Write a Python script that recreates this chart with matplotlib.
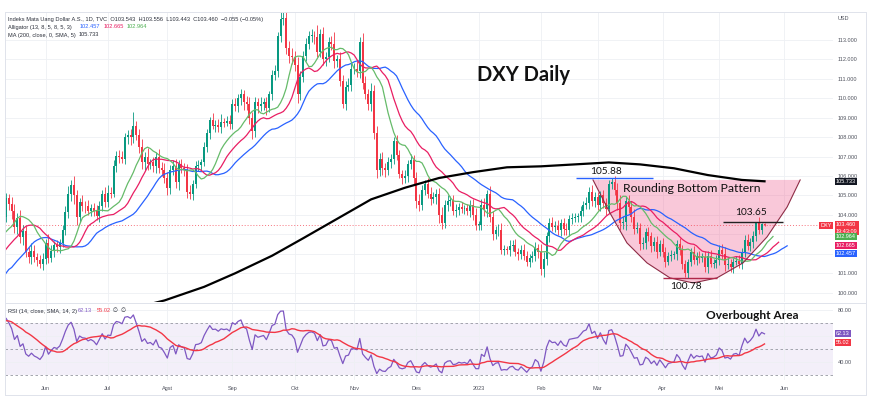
import matplotlib
matplotlib.use('Agg')
import matplotlib.pyplot as plt
import numpy as np
import pandas as pd
from matplotlib.lines import Line2D
from matplotlib.patches import Polygon
from matplotlib.transforms import blended_transform_factory

plt.rcParams['font.family'] = ['Liberation Sans', 'DejaVu Sans']

W, H = 870, 411

# closes 1 Mar - 11 May 2022, only used to warm up the indicators
hist_close = [97.40, 97.40, 97.80, 98.60, 99.30, 99.00, 98.00, 98.50, 99.10, 99.00,
              98.80, 98.40, 97.90, 98.20, 98.50, 98.50, 98.60, 98.80, 98.80, 99.00,
              98.40, 97.80, 98.30,
              98.60, 99.00, 99.50, 99.60, 99.80, 99.80, 99.90, 100.30, 99.90, 100.50,
              100.50, 100.70, 100.90, 100.40, 100.60, 101.10, 101.80, 102.30, 103.00,
              103.70, 103.00,
              103.70, 103.50, 102.50, 103.60, 103.70, 103.70, 103.90, 103.90]

# daily closes shown on the chart, 12 May 2022 - 23 May 2023
may22 = [104.85, 104.56, 104.18, 103.37, 103.82, 102.87, 103.15, 102.11, 101.84, 102.13,
         101.82, 101.67, 101.45, 101.75]
jun22 = [102.55, 101.80, 102.15, 102.43, 102.34, 102.56, 103.22, 104.15, 105.07, 105.52,
         105.00, 103.90, 104.65, 104.48, 104.45, 104.21, 104.36, 104.22, 103.94, 104.47,
         105.10, 104.69]
jul22 = [105.13, 105.10, 106.50, 107.05, 107.00, 106.90, 108.00, 108.10, 108.00, 108.60,
         108.10, 107.50, 106.70, 107.00, 106.60, 106.70, 106.50, 107.00, 106.40, 106.30,
         105.90]
aug22 = [105.40, 106.30, 106.50, 105.70, 106.60, 106.40, 106.30, 105.20, 105.10, 105.60,
         106.50, 106.55, 106.70, 107.50, 108.20, 108.90, 108.60, 108.65, 108.50, 108.80,
         108.75, 108.82, 108.70]
sep22 = [109.70, 109.60, 110.00, 110.20, 109.80, 109.70, 109.00, 108.30, 109.80, 109.60,
         109.70, 109.80, 109.50, 110.20, 111.20, 111.40, 113.20, 114.10, 114.15, 112.60,
         112.20, 112.10]
oct22 = [111.70, 110.20, 111.10, 112.20, 112.80, 113.20, 113.28, 113.15, 112.40, 113.30,
         112.00, 112.10, 112.90, 112.80, 111.90, 112.00, 110.90, 109.70, 110.60, 110.70,
         111.50]
nov22 = [111.50, 111.40, 112.90, 110.80, 110.20, 109.70, 110.40, 108.20, 106.30, 106.90,
         106.40, 106.30, 106.70, 106.90, 107.80, 107.10, 106.10, 105.90, 106.00, 106.60,
         106.80, 105.90]
dec22 = [104.70, 104.50, 105.30, 105.60, 105.10, 104.80, 104.90, 105.10, 104.00, 103.60,
         104.50, 104.70, 104.75, 104.20, 104.25, 104.40, 104.30, 104.35, 104.20, 104.50,
         104.00, 103.50]
jan23 = [103.50, 104.50, 104.30, 105.10, 103.90, 103.00, 103.20, 103.25, 102.20, 102.25,
         102.20, 102.40, 102.45, 102.10, 102.00, 102.20, 101.90, 101.60, 101.80, 101.90,
         102.30, 102.10]
feb23 = [101.20, 101.75, 102.90, 103.60, 103.40, 103.45, 103.20, 103.60, 103.30, 103.20,
         103.80, 103.85, 103.90, 103.95, 104.20, 104.50, 104.60, 105.20, 104.70, 104.90]
mar23 = [104.50, 105.00, 104.60, 104.30, 105.60, 105.70, 105.30, 104.60, 103.60, 103.65,
         104.70, 104.40, 103.90, 103.30, 103.35, 102.50, 102.55, 103.10, 102.90, 102.40,
         102.60, 102.10, 102.50]
apr23 = [102.10, 101.60, 101.90, 101.95, 102.00, 102.50, 102.20, 101.50, 101.00, 101.60,
         102.10, 101.70, 101.90, 101.80, 101.85, 101.30, 101.90, 101.50, 101.55, 101.70]
may23 = [102.20, 102.00, 101.40, 101.45, 101.30, 101.60, 101.65, 101.50, 102.10, 102.70,
         102.40, 102.60, 102.90, 103.60, 103.20, 103.54, 103.46]

# shadow lengths beyond the body, in hundredths
wick_up = [30, 25, 35, 40, 30, 45, 35, 30, 25, 40, 30, 20, 25, 30,
           20, 45, 30, 25, 30, 20, 25, 30, 40, 27, 50, 30, 20, 35, 25, 30, 20, 25, 30, 25, 20, 35,
           40, 30, 35, 25, 30, 30, 20, 25, 30, 69, 25, 30, 40, 25, 45, 20, 30, 25, 40, 30, 35,
           30, 25, 30, 40, 20, 30, 25, 30, 35, 20, 25, 30, 20, 25, 20, 15, 35, 25, 30, 40, 20, 25, 30,
           25, 30, 20, 30, 25, 30, 35, 30, 25, 20, 35, 20, 25, 20, 25, 30, 20, 50, 30, 68, 35, 40,
           35, 40, 30, 25, 30, 25, 30, 20, 60, 25, 35, 30, 25, 30, 60, 25, 40, 30, 30, 35, 30,
           30, 40, 25, 45, 35, 30, 40, 30, 40, 30, 35, 25, 30, 25, 20, 30, 25, 20, 30, 25, 35, 30,
           30, 40, 25, 20, 30, 35, 30, 25, 30, 40, 25, 30, 20, 25, 30, 20, 25, 15, 20, 25, 30, 35,
           20, 30, 35, 20, 40, 30, 25, 30, 35, 20, 15, 30, 25, 30, 20, 25, 30, 25, 20, 25, 30, 20,
           40, 35, 20, 25, 30, 25, 30, 20, 25, 30, 20, 25, 20, 15, 25, 20, 30, 25, 35, 30,
           30, 25, 30, 25, 20, 18, 30, 35, 40, 30, 25, 35, 30, 40, 30, 25, 30, 25, 30, 20, 25, 30, 20,
           30, 25, 20, 25, 15, 20, 30, 25, 20, 15, 20, 30, 20, 25, 20, 30, 25, 30, 20, 25,
           25, 30, 35, 40, 30, 20, 25, 30, 20, 25, 30, 20, 25, 5, 30, 5, 2]
wick_dn = [25, 30, 40, 30, 35, 30, 40, 25, 30, 35, 25, 30, 20, 30,
           30, 25, 20, 30, 25, 30, 20, 25, 30, 35, 45, 40, 25, 30, 35, 20, 25, 30, 20, 30, 25, 30,
           30, 25, 20, 30, 35, 25, 30, 35, 40, 30, 25, 30, 35, 40, 30, 25, 30, 35, 25, 30, 25,
           35, 30, 25, 30, 40, 25, 30, 35, 30, 35, 20, 25, 30, 20, 25, 30, 20, 35, 25, 30, 25, 20, 30,
           30, 25, 30, 35, 40, 30, 30, 40, 30, 35, 25, 30, 35, 20, 30, 25, 30, 30, 35, 30, 40, 35,
           30, 45, 30, 25, 30, 25, 30, 35, 30, 25, 30, 35, 25, 30, 35, 30, 25, 20, 30, 25, 30,
           25, 30, 35, 30, 25, 30, 35, 30, 40, 30, 35, 35, 25, 30, 30, 25, 20, 30, 25, 30, 25, 30,
           35, 30, 25, 30, 25, 30, 20, 35, 40, 30, 25, 30, 25, 20, 30, 25, 20, 25, 20, 30, 25, 30,
           25, 30, 35, 40, 25, 30, 25, 30, 20, 25, 20, 30, 25, 20, 30, 25, 20, 25, 30, 20, 25, 30,
           30, 38, 35, 30, 25, 30, 25, 30, 35, 25, 30, 25, 20, 25, 30, 25, 20, 30, 25, 30,
           25, 30, 25, 30, 20, 25, 30, 35, 40, 30, 45, 30, 25, 30, 25, 30, 25, 30, 25, 30, 25, 30, 20,
           25, 30, 20, 25, 20, 30, 25, 30, 20, 22, 25, 20, 30, 25, 20, 25, 30, 20, 25, 30,
           30, 25, 30, 20, 25, 30, 20, 25, 30, 25, 20, 25, 30, 25, 20, 20, 2]

# 200-day SMA, read at a few bars (bar index, value)
ma_bar = [45, 56, 70, 81, 94, 105, 117, 129, 141, 153, 165, 177, 189, 201, 213, 224, 236, 248, 260, 268]
ma_val = [99.2, 99.6, 100.3, 101.0, 101.9, 102.8, 103.8, 104.8, 105.4, 105.9, 106.2, 106.45,
          106.5, 106.6, 106.7, 106.6, 106.4, 106.05, 105.8, 105.73]

month_labels = ['Jun', 'Jul', 'Agst', 'Sep', 'Okt', 'Nov', 'Des', '2023', 'Feb', 'Mar', 'Apr', 'Mei', 'Jun']

# rounding bottom outline (bar index, price)
arc_bar = [207.4, 213.4, 219.4, 226.5, 234.6, 242.8, 251.2, 260.4, 268.9, 276.0, 280.6]
arc_px = [105.80, 104.10, 102.56, 101.53, 100.76, 100.50, 100.76, 101.53, 102.87, 104.41, 105.80]

close = np.array(may22 + jun22 + jul22 + aug22 + sep22 + oct22 + nov22 + dec22
                 + jan23 + feb23 + mar23 + apr23 + may23)
days = pd.bdate_range('2022-05-12', '2023-05-23')
assert len(days) == len(close) == len(wick_up) == len(wick_dn)
opens = np.r_[hist_close[-1], close[:-1]]
high = np.maximum(opens, close) + np.array(wick_up) / 100
low = np.minimum(opens, close) - np.array(wick_dn) / 100
x = np.arange(len(close))

cal = pd.bdate_range('2022-05-12', '2023-06-30')
month_pos = [i for i in range(1, len(cal)) if cal[i].month != cal[i - 1].month]


def smma(src, n):
    out = np.full(len(src), np.nan)
    out[n - 1] = np.mean(src[:n])
    for i in range(n, len(src)):
        out[i] = (out[i - 1] * (n - 1) + src[i]) / n
    return out


def rsi(src, n=14):
    d = np.diff(src)
    up, dn = np.clip(d, 0, None), np.clip(-d, 0, None)
    au, ad = np.mean(up[:n]), np.mean(dn[:n])
    out = np.full(len(src), np.nan)
    for i in range(n, len(d)):
        au = (au * (n - 1) + up[i]) / n
        ad = (ad * (n - 1) + dn[i]) / n
        out[i + 1] = 100 - 100 / (1 + au / ad)
    return out


nh = len(hist_close)
median = np.r_[hist_close, (high + low) / 2]
full_x = np.arange(len(median)) - nh
jaw, teeth, lips = smma(median, 13), smma(median, 8), smma(median, 5)
rsi_all = rsi(np.r_[hist_close, close])
rsi_ma = pd.Series(rsi_all).rolling(14).mean().values

UP, DOWN = '#089981', '#f23645'
fig = plt.figure(figsize=(W / 100, H / 100), dpi=100)
ax = fig.add_axes([5 / W, 1 - 302 / H, 828 / W, 290 / H])
axr = fig.add_axes([5 / W, 1 - 380 / H, 828 / W, 77 / H], sharex=ax)

for a in (ax, axr):
    for s in a.spines.values():
        s.set_visible(False)
    a.set_xticks(month_pos)
    a.grid(True, color='#eef0f4', lw=0.6)
    a.set_axisbelow(True)
    a.yaxis.tick_right()
    a.tick_params(length=0, labelsize=4, labelcolor='#50535e', pad=3.6)

ax.set_xlim(-0.35, 292.2)
ax.set_ylim(99.52, 114.44)
price_ticks = np.arange(100, 114)
ax.set_yticks(price_ticks)
# 102 and 103 sit behind the value tags on the scale
ax.set_yticklabels(['' if v in (102, 103) else f'{v:.3f}' for v in price_ticks])
ax.tick_params(axis='x', labelbottom=False)

# pattern shading under the candles
shape = Polygon(list(zip(arc_bar, arc_px)), closed=True, facecolor='#f06292', alpha=0.35,
                edgecolor='none', zorder=1)
ax.add_patch(shape)

# candles
col = np.where(close >= opens, UP, DOWN)
ax.vlines(x, low, high, colors=col, lw=0.6, zorder=3)
ax.bar(x, np.maximum(np.abs(close - opens), 0.03), bottom=np.minimum(opens, close),
       width=0.7, color=col, linewidth=0, zorder=3)

ax.plot(full_x + 8, jaw, color='#2962ff', lw=0.9, zorder=4)
ax.plot(full_x + 5, teeth, color='#e91e63', lw=0.9, zorder=4)
ax.plot(full_x + 3, lips, color='#66bb6a', lw=0.9, zorder=4)
ax.plot(ma_bar, ma_val, color='black', lw=1.6, zorder=4)
ax.axhline(close[-1], color=DOWN, lw=0.7, ls=(0, (1, 2)), alpha=0.7, zorder=2)

ax.plot(arc_bar, arc_px, color='#8e2c46', lw=0.8, zorder=5)
ax.hlines(105.88, 201.4, 228.6, color='#2962ff', lw=1, zorder=5)
ax.hlines(103.65, 253.4, 274.6, color='#222222', lw=1, zorder=5)
ax.hlines(100.78, 232.2, 251.2, color='#b0284a', lw=1, zorder=5)

ann = dict(family=['Lato', 'DejaVu Sans'], color='#111111', ha='center', va='center', zorder=6)
ax.text(212, 106.25, '105.88', fontsize=7.3, **ann)
ax.text(263.3, 104.12, '103.65', fontsize=7.3, **ann)
ax.text(240.3, 100.33, '100.78', fontsize=7.3, **ann)
ax.text(242.4, 105.38, 'Rounding Bottom Pattern', fontsize=8.8, **ann)
ax.text(182.7, 111.2, 'DXY Daily', fontsize=14.5, fontweight='bold', **ann)

# price scale labels
bl = blended_transform_factory(ax.transAxes, ax.transData)
box_kw = dict(xycoords=bl, textcoords='offset points', fontsize=4, ha='left', va='center',
              color='white', zorder=10, annotation_clip=False)


def tag(text, value, dy, fc, **extra):
    kw = dict(box_kw, **extra)
    ax.annotate(text, xy=(1, value), xytext=(2.2, dy),
                bbox=dict(boxstyle='square,pad=0.18', fc=fc, ec='none'), **kw)


tag('105.733', 105.733, 0, '#131722')
tag('103.460\n19:43:09', close[-1], 2.4, DOWN, va='top', linespacing=1.55)
tag('102.964', 102.964, -1.3, '#4caf50')
tag('102.665', 102.665, -3.2, '#e91e63')
tag('102.457', 102.457, -6.4, '#2962ff')
ax.annotate('DXY', xy=(1, close[-1]), xytext=(-1.0, 0), xycoords=bl, textcoords='offset points',
            fontsize=4, ha='right', va='center', color='white', zorder=10,
            bbox=dict(boxstyle='square,pad=0.18', fc=DOWN, ec='none'))

# RSI panel
axr.set_ylim(26.15, 85.4)
axr.set_yticks([40, 60, 80])
axr.set_yticklabels(['40.00', '', '80.00'])
axr.set_xticks(month_pos)
axr.set_xticklabels(month_labels)
axr.tick_params(axis='x', pad=4)
axr.axhspan(30, 70, color='#7e57c2', alpha=0.09, lw=0, zorder=0)
for lvl in (70, 50, 30):
    axr.axhline(lvl, color='#9598a1', lw=0.6, ls=(0, (3, 3)), zorder=1)
rsi_x = np.arange(len(rsi_all)) - nh
axr.plot(rsi_x, rsi_all, color='#7e57c2', lw=0.9, zorder=3)
axr.plot(rsi_x, rsi_ma, color='#f23645', lw=1.0, zorder=3)
axr.text(263.6, 75.4, 'Overbought Area', fontsize=8.6, fontweight='bold', **ann)
blr = blended_transform_factory(axr.transAxes, axr.transData)
rbox = dict(xycoords=blr, textcoords='offset points', fontsize=4, ha='left', va='center',
            color='white', zorder=10, annotation_clip=False)
axr.annotate('62.13', xy=(1, 62.13), xytext=(2.2, 0),
             bbox=dict(boxstyle='square,pad=0.18', fc='#7e57c2', ec='none'), **rbox)
axr.annotate('55.02', xy=(1, 55.02), xytext=(2.2, 0),
             bbox=dict(boxstyle='square,pad=0.18', fc=DOWN, ec='none'), **rbox)


def px(xp, yp):
    return xp / W, 1 - yp / H


leg = dict(fontsize=4.1, va='center', ha='left', color='#2a2e39')
fig.text(*px(8, 19), 'Indeks Mata Uang Dollar A.S., 1D, TVC  O103.543  H103.556  L103.443  '
         'C103.460  \u22120.055 (\u22120.05%)', **leg)
fig.text(*px(8, 27), 'Alligator (13, 8, 5, 8, 5, 3)', **leg)
fig.text(*px(80, 27), '102.457', **dict(leg, color='#2962ff'))
fig.text(*px(104, 27), '102.665', **dict(leg, color='#e91e63'))
fig.text(*px(127, 27), '102.964', **dict(leg, color='#4caf50'))
fig.text(*px(8, 35), 'MA (200, close, 0, SMA, 5)', **leg)
fig.text(*px(79, 35), '105.733', **leg)
fig.text(*px(8, 311), 'RSI (14, close, SMA, 14, 2)', **leg)
fig.text(*px(78, 311), '62.13', **dict(leg, color='#7e57c2'))
fig.text(*px(97, 311), '55.02', **dict(leg, color='#f23645'))
fig.text(*px(113, 311), '\u2205  \u2205', **leg)
fig.text(*px(838, 18), 'USD', fontsize=4, va='center', ha='left', color='#50535e')

# chart frame
frame = '#e0e3eb'
for (x0, y0, x1, y1) in [(5, 12, 866, 12), (5, 395, 866, 395), (5, 12, 5, 395),
                         (866, 12, 866, 395), (5, 302.5, 866, 302.5)]:
    fig.add_artist(Line2D([x0 / W, x1 / W], [1 - y0 / H, 1 - y1 / H], color=frame, lw=0.7))

fig.savefig('out.png', dpi=100, facecolor='white')
